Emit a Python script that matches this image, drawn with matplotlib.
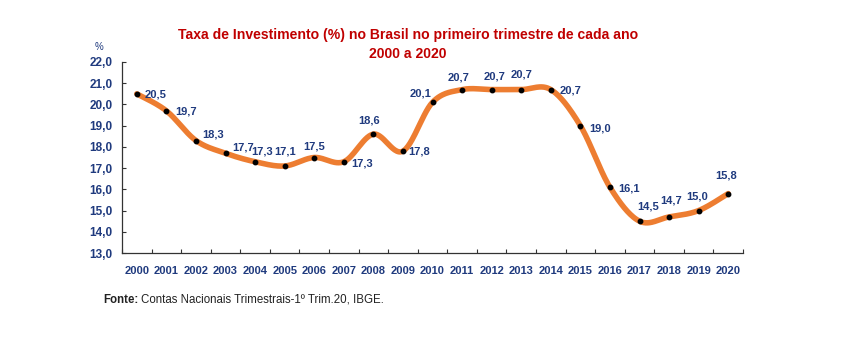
import numpy as np
import matplotlib
matplotlib.use("Agg")
import matplotlib.pyplot as plt

years = [str(y) for y in range(2000, 2021)]
values = [20.5, 19.7, 18.3, 17.7, 17.3, 17.1, 17.5, 17.3, 18.6, 17.8, 20.1,
          20.7, 20.7, 20.7, 20.7, 19.0, 16.1, 14.5, 14.7, 15.0, 15.8]
labels = ["20,5", "19,7", "18,3", "17,7", "17,3", "17,1", "17,5", "17,3", "18,6", "17,8", "20,1",
          "20,7", "20,7", "20,7", "20,7", "19,0", "16,1", "14,5", "14,7", "15,0", "15,8"]
# label offsets in pixels (dx, dy) relative to each point
offsets = [(19, -1), (20, -1), (17, 6), (18, 6), (7, 10), (0, 14), (0, 11), (18, -2),
           (-4, 14), (16, 0), (-12, 9), (-4, 12), (3, 13), (0, 15), (20, -1), (20, -3),
           (19, -1), (9, 15), (2, 16), (-2, 14), (-2, 18)]
yticks = [13.0, 14.0, 15.0, 16.0, 17.0, 18.0, 19.0, 20.0, 21.0, 22.0]
ytick_labels = ["13,0", "14,0", "15,0", "16,0", "17,0", "18,0", "19,0", "20,0", "21,0", "22,0"]

navy = "#1F3A7E"
orange = "#ED7D31"
plt.rcParams['font.family'] = ['Liberation Sans', 'DejaVu Sans']

fig = plt.figure(figsize=(8.55, 3.56), dpi=100)
ax = fig.add_axes([122/855, 1-253/356, 621/855, 191/356])

x = np.arange(len(values))
y = np.array(values, dtype=float)

# Excel-like smoothed line (Bezier with Catmull-Rom control points)
def smooth(xp, yp, n=30):
    px = np.concatenate([[xp[0]], xp, [xp[-1]]])
    py = np.concatenate([[yp[0]], yp, [yp[-1]]])
    xs, ys = [], []
    t = np.linspace(0, 1, n)
    for i in range(1, len(px) - 2):
        p0 = np.array([px[i], py[i]])
        p3 = np.array([px[i+1], py[i+1]])
        c1 = p0 + (np.array([px[i+1], py[i+1]]) - np.array([px[i-1], py[i-1]])) / 6
        c2 = p3 - (np.array([px[i+2], py[i+2]]) - np.array([px[i], py[i]])) / 6
        b = ((1-t)**3)[:, None]*p0 + (3*(1-t)**2*t)[:, None]*c1 + (3*(1-t)*t**2)[:, None]*c2 + (t**3)[:, None]*p3
        xs.append(b[:, 0]); ys.append(b[:, 1])
    return np.concatenate(xs), np.concatenate(ys)

sx, sy = smooth(x.astype(float), y)
ax.plot(sx, sy, color=orange, lw=4.0, solid_capstyle='round', zorder=2)
ax.plot(x, y, 'o', color='black', ms=3.2, zorder=3)

for xi, yi, lab, (dx, dy) in zip(x, y, labels, offsets):
    ax.annotate(lab, (xi, yi), xytext=(dx*0.72, dy*0.72), textcoords='offset points',
                ha='center', va='center', fontsize=8, fontweight='bold', color=navy)

ax.set_xlim(-0.5, len(values) - 0.5)
ax.set_ylim(13, 22)
ax.set_yticks(yticks)
ax.set_yticklabels(ytick_labels, fontsize=8.5, fontweight='bold', color=navy)
ax.set_xticks(x)
ax.set_xticklabels(years, fontsize=8, fontweight='bold', color=navy)
ax.set_xticks(np.arange(-0.5, len(values)), minor=True)
ax.tick_params(axis='x', which='major', length=0, pad=9)
ax.tick_params(axis='x', which='minor', direction='in', length=3, width=0.8, color='#333333')
ax.tick_params(axis='y', direction='in', length=3, width=0.8, color='#333333', pad=7)
for s in ['top', 'right']:
    ax.spines[s].set_visible(False)
for s in ['left', 'bottom']:
    ax.spines[s].set_linewidth(0.9)
    ax.spines[s].set_color('#333333')

fig.text(99/855, 1-47/356, "%", fontsize=7, color=navy, ha='center', va='center')
fig.text(408/855, 1-35/356, "Taxa de Investimento (%) no Brasil no primeiro trimestre de cada ano",
         fontsize=10.1, fontweight='bold', color='#C00000', ha='center', va='center')
fig.text(408/855, 1-54/356, "2000 a 2020",
         fontsize=10.1, fontweight='bold', color='#C00000', ha='center', va='center')

t1 = fig.text(103/855, 1-303/356, "Fonte:", fontsize=8.3, fontweight='bold',
              color='#222222', ha='left', va='baseline')
fig.canvas.draw()
bb = t1.get_window_extent()
fig.text((bb.x1 + 3)/855, 1-303/356, "Contas Nacionais Trimestrais-1º Trim.20, IBGE.",
         fontsize=8.3, color='#222222', ha='left', va='baseline')
fig.savefig("out.png", dpi=100)
